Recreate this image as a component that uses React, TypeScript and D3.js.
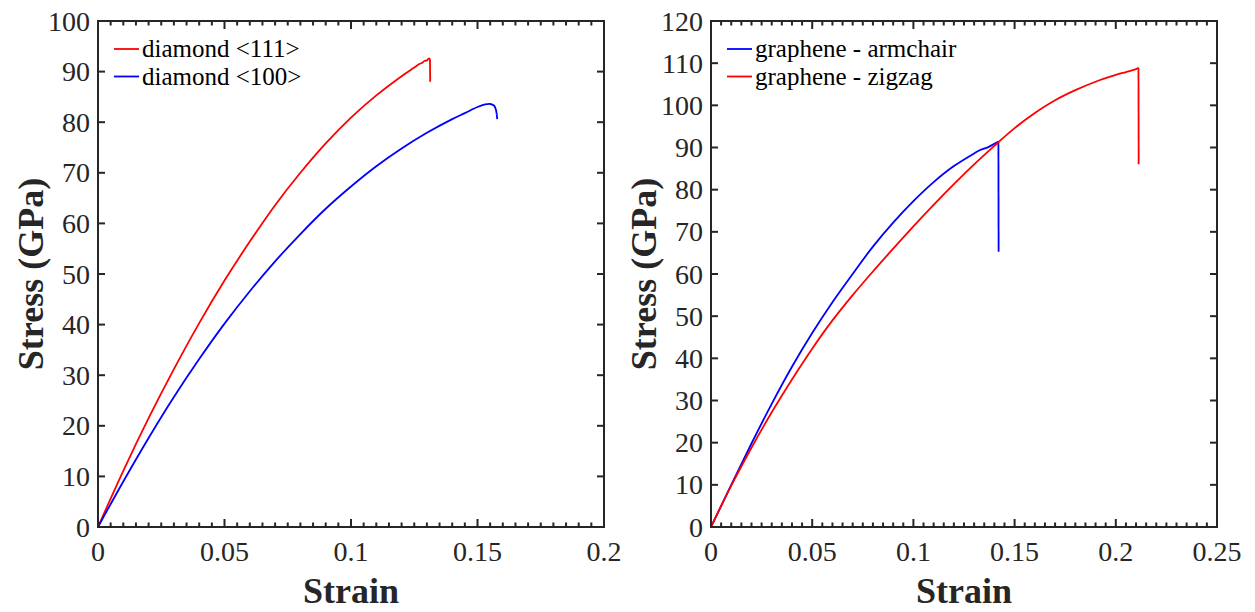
import React from 'react';
import * as d3 from 'd3';

// ---------- data ----------
const diamond111Strain = [0, 0.01, 0.02, 0.03, 0.04, 0.05, 0.06, 0.07, 0.08, 0.09, 0.1, 0.11, 0.12, 0.125, 0.127, 0.128, 0.129, 0.13, 0.1305, 0.1312, 0.1313];
const diamond111Stress = [0, 11.1, 21.5, 31.2, 40.3, 48.7, 56.4, 63.6, 70.0, 75.8, 80.9, 85.3, 89.1, 90.8, 91.5, 91.7, 92.1, 92.2, 92.5, 92.6, 88.0];

const diamond100Strain = [0, 0.01, 0.02, 0.03, 0.04, 0.05, 0.06, 0.07, 0.08, 0.09, 0.1, 0.11, 0.12, 0.13, 0.14, 0.145, 0.15, 0.153, 0.155, 0.1565, 0.1572, 0.1576, 0.1578];
const diamond100Stress = [0, 9.0, 17.6, 25.7, 33.2, 40.2, 46.6, 52.5, 57.9, 62.9, 67.3, 71.3, 74.8, 77.9, 80.6, 81.8, 83.0, 83.5, 83.6, 83.3, 82.6, 81.6, 80.6];

const armchairStrain = [0, 0.01, 0.02, 0.03, 0.04, 0.05, 0.06, 0.07, 0.08, 0.09, 0.1, 0.11, 0.12, 0.13, 0.133, 0.137, 0.142, 0.1421];
const armchairStress = [0, 10.0, 19.8, 29.2, 38.0, 46.0, 53.3, 60.0, 66.5, 72.2, 77.3, 81.8, 85.6, 88.6, 89.4, 90.1, 91.4, 65.3];

const zigzagStrain = [0, 0.01, 0.02, 0.03, 0.04, 0.05, 0.06, 0.07, 0.08, 0.09, 0.1, 0.11, 0.12, 0.13, 0.14, 0.15, 0.16, 0.17, 0.18, 0.19, 0.2, 0.205, 0.21, 0.2112, 0.2113];
const zigzagStress = [0, 9.8, 18.8, 27.2, 35.0, 42.3, 49.0, 55.0, 60.6, 66.0, 71.3, 76.4, 81.3, 86.0, 90.4, 94.6, 98.2, 101.2, 103.6, 105.6, 107.2, 107.9, 108.6, 108.9, 86.0];

const leftXTicks = [0, 0.05, 0.1, 0.15, 0.2];
const leftXLabels = ['0', '0.05', '0.1', '0.15', '0.2'];
const leftYTicks = [0, 10, 20, 30, 40, 50, 60, 70, 80, 90, 100];
const rightXTicks = [0, 0.05, 0.1, 0.15, 0.2, 0.25];
const rightXLabels = ['0', '0.05', '0.1', '0.15', '0.2', '0.25'];
const rightYTicks = [0, 10, 20, 30, 40, 50, 60, 70, 80, 90, 100, 110, 120];

const leftLegend = ['diamond <111>', 'diamond <100>'];
const rightLegend = ['graphene - armchair', 'graphene - zigzag'];
const xTitle = 'Strain';
const yTitle = 'Stress (GPa)';

const FONT = '"Liberation Serif", "Times New Roman", serif';
const AX = '#262626';

type Series = { x: number[]; y: number[]; color: string; label: string };

function Panel(props: {
  left: number; right: number; top: number; bottom: number;
  xMax: number; yMax: number;
  xTicks: number[]; xLabels: string[]; yTicks: number[];
  series: Series[]; legendX: number;
}) {
  const { left, right, top, bottom, xMax, yMax, xTicks, xLabels, yTicks, series, legendX } = props;
  const x = d3.scaleLinear().domain([0, xMax]).range([left, right]);
  const y = d3.scaleLinear().domain([0, yMax]).range([bottom, top]);
  const minor = d3.range(0, Math.round(xMax / 0.005) + 1)
    .map((i) => i * 0.005)
    .filter((v) => !xTicks.some((t) => Math.abs(t - v) < 1e-9));
  const smooth = d3.line<[number, number]>().x((d) => x(d[0])).y((d) => y(d[1])).curve(d3.curveCatmullRom.alpha(0.5));
  const straight = d3.line<[number, number]>().x((d) => x(d[0])).y((d) => y(d[1]));
  const cx = (left + right) / 2;
  const cy = (top + bottom) / 2;

  return (
    <g>
      {series.map((s, i) => {
        const pts = s.x.map((v, j) => [v, s.y[j]] as [number, number]);
        const n = pts.length;
        return (
          <g key={i}>
            <path d={smooth(pts.slice(0, n - 1)) || ''} fill="none" stroke={s.color} strokeWidth={1.8} strokeLinejoin="round" />
            <path d={straight(pts.slice(n - 2)) || ''} fill="none" stroke={s.color} strokeWidth={1.8} />
          </g>
        );
      })}
      <rect x={left} y={top} width={right - left} height={bottom - top} fill="none" stroke={AX} strokeWidth={2} />
      {minor.map((v) => (
        <React.Fragment key={'m' + v}>
          <rect x={x(v) - 1} y={bottom - 4.5} width={2} height={4.5} fill={AX} />
          <rect x={x(v) - 1} y={top} width={2} height={4.5} fill={AX} />
        </React.Fragment>
      ))}
      {xTicks.map((v) => (
        <React.Fragment key={'M' + v}>
          <rect x={x(v) - 1} y={bottom - 8} width={2} height={8} fill={AX} />
          <rect x={x(v) - 1} y={top} width={2} height={8} fill={AX} />
        </React.Fragment>
      ))}
      {yTicks.map((v) => (
        <React.Fragment key={'Y' + v}>
          <rect x={left} y={y(v) - 1} width={7} height={2} fill={AX} />
          <rect x={right - 7} y={y(v) - 1} width={7} height={2} fill={AX} />
        </React.Fragment>
      ))}
      {xTicks.map((v, i) => (
        <text key={'x' + i} x={x(v)} y={561} textAnchor="middle" fontFamily={FONT} fontSize={28} fill={AX}>{xLabels[i]}</text>
      ))}
      {yTicks.map((v, i) => (
        <text key={'y' + i} x={left - 8} y={y(v)} dy="0.34em" textAnchor="end" fontFamily={FONT} fontSize={28} fill={AX}>{v}</text>
      ))}
      <text x={cx} y={603} textAnchor="middle" fontFamily={FONT} fontSize={36} fontWeight="bold" fill={AX}>{xTitle}</text>
      <text transform={`translate(${left - 55},${cy}) rotate(-90)`} textAnchor="middle" fontFamily={FONT} fontSize={36} fontWeight="bold" fill={AX}>{yTitle}</text>
      {series.map((s, i) => (
        <g key={'l' + i}>
          <line x1={legendX} x2={legendX + 25} y1={49 + i * 27.5} y2={49 + i * 27.5} stroke={s.color} strokeWidth={1.8} />
          <text x={legendX + 28} y={49 + i * 27.5} dy="0.33em" fontFamily={FONT} fontSize={25} fill="#000">{s.label}</text>
        </g>
      ))}
    </g>
  );
}

export default function App() {
  return (
    <div style={{ position: 'absolute', left: 0, top: 0 }}>
      <svg width={1255} height={612} style={{ display: 'block', background: '#fff' }}>
        <Panel left={98} right={604} top={21} bottom={527} xMax={0.2} yMax={100}
          xTicks={leftXTicks} xLabels={leftXLabels} yTicks={leftYTicks} legendX={114}
          series={[
            { x: diamond111Strain, y: diamond111Stress, color: '#ff0000', label: leftLegend[0] },
            { x: diamond100Strain, y: diamond100Stress, color: '#0000ff', label: leftLegend[1] },
          ]} />
        <Panel left={711} right={1217} top={21} bottom={527} xMax={0.25} yMax={120}
          xTicks={rightXTicks} xLabels={rightXLabels} yTicks={rightYTicks} legendX={727}
          series={[
            { x: armchairStrain, y: armchairStress, color: '#0000ff', label: rightLegend[0] },
            { x: zigzagStrain, y: zigzagStress, color: '#ff0000', label: rightLegend[1] },
          ]} />
      </svg>
    </div>
  );
}
